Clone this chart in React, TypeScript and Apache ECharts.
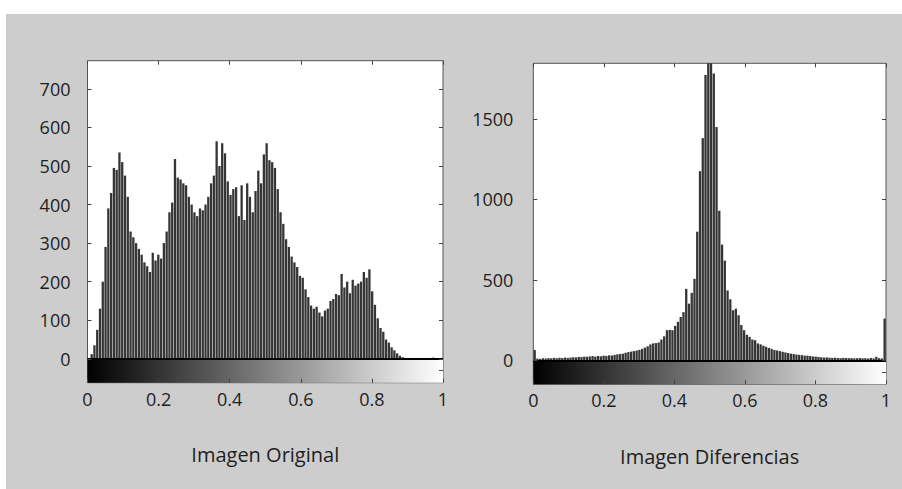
import React, { useEffect, useRef } from "react";
import * as echarts from "echarts";

// 128-bin histograms (bin i covers [i/128, (i+1)/128])
const origValues = [
  2, 12, 35, 75, 130, 200, 290, 390, 430, 495, 490, 535, 510, 475, 420, 330,
  315, 300, 285, 270, 250, 240, 225, 275, 255, 270, 260, 300, 330, 380, 405, 518,
  470, 465, 455, 450, 420, 400, 380, 370, 390, 385, 400, 420, 455, 475, 564, 500,
  559, 533, 460, 425, 440, 445, 370, 450, 360, 455, 420, 380, 435, 488, 455, 530,
  559, 515, 510, 495, 440, 380, 350, 310, 290, 265, 250, 238, 215, 210, 180, 160,
  138, 130, 135, 120, 110, 125, 130, 150, 155, 168, 165, 220, 185, 200, 170, 205,
  190, 195, 200, 225, 210, 232, 175, 140, 105, 80, 70, 50, 42, 30, 22, 14,
  8, 4, 2, 0, 0, 0, 0, 0, 0, 0, 0, 0, 3, 0, 0, 0,
];

const diffValues = [
  65, 12, 10, 14, 12, 15, 13, 16, 14, 17, 15, 18, 16, 18, 20, 19,
  22, 21, 24, 23, 25, 27, 24, 28, 26, 30, 28, 32, 31, 35, 38, 40,
  42, 48, 52, 55, 58, 62, 66, 72, 80, 88, 100, 106, 108, 112, 130, 150,
  188, 190, 188, 215, 240, 270, 300, 445, 353, 420, 507, 800, 1176, 1381, 1773, 2300,
  2300, 1783, 1450, 930, 720, 620, 435, 380, 312, 322, 281, 220, 188, 160, 147, 130,
  126, 106, 100, 92, 85, 78, 72, 65, 62, 58, 54, 50, 46, 42, 40, 37,
  35, 33, 30, 30, 28, 25, 24, 22, 20, 18, 19, 17, 16, 17, 15, 14,
  16, 15, 14, 15, 13, 14, 15, 13, 14, 12, 15, 13, 23, 14, 12, 260,
];

const xTickValues = [0, 0.2, 0.4, 0.6, 0.8, 1];
const origYTicks = [0, 100, 200, 300, 400, 500, 600, 700];
const diffYTicks = [0, 500, 1000, 1500];
const origRange = [-62, 773];
const diffRange = [-148, 1846];
const titles = ["Imagen Original", "Imagen Diferencias"];

const toPairs = (values: number[]) =>
  values.map((v, i) => [(i + 0.5) / values.length, v]);

const FONT = "'Open Sans', sans-serif";
const AXIS = "#444";
const TEXT = "#1e1e1e";

export default function App() {
  const ref = useRef<HTMLDivElement>(null);

  useEffect(() => {
    if (!ref.current) return;
    const chart = echarts.init(ref.current, undefined, { renderer: "svg" });

    const grids = [
      { left: 81.5, top: 46.7, width: 355.5, height: 322 },
      { left: 527.3, top: 49.3, width: 352.7, height: 321 },
    ];
    const ranges = [origRange, diffRange];
    const yTicks = [origYTicks, diffYTicks];
    const datasets = [origValues, diffValues];
    const labelMargins = [17, 20];

    const xAxes: any[] = [];
    const yAxes: any[] = [];
    const series: any[] = [];

    grids.forEach((_, g) => {
      const [mn, mx] = ranges[g];
      xAxes.push({
        type: "value",
        gridIndex: g,
        min: 0,
        max: 1,
        position: "bottom",
        z: 5,
        axisLine: { show: false, onZero: false },
        splitLine: { show: false },
        axisTick: {
          inside: true,
          length: 4,
          customValues: xTickValues,
          lineStyle: { color: AXIS },
        },
        axisLabel: {
          customValues: xTickValues,
          formatter: (v: number) => String(v),
          color: TEXT,
          fontSize: 18,
          fontFamily: FONT,
          margin: 7,
        },
        name: titles[g],
        nameLocation: "middle",
        nameGap: 62,
        nameTextStyle: { color: TEXT, fontSize: 20, fontFamily: FONT },
      });
      xAxes.push({
        type: "value",
        gridIndex: g,
        min: 0,
        max: 1,
        position: "top",
        z: 5,
        axisLine: { show: false, onZero: false },
        splitLine: { show: false },
        axisTick: {
          inside: true,
          length: 4,
          customValues: xTickValues,
          lineStyle: { color: AXIS },
        },
        axisLabel: { show: false },
      });
      yAxes.push({
        type: "value",
        gridIndex: g,
        min: mn,
        max: mx,
        position: "left",
        z: 5,
        axisLine: { show: false, onZero: false },
        splitLine: { show: false },
        axisTick: {
          inside: true,
          length: 4,
          customValues: yTicks[g],
          lineStyle: { color: AXIS },
        },
        axisLabel: {
          customValues: yTicks[g],
          formatter: (v: number) => String(v),
          color: TEXT,
          fontSize: 18,
          fontFamily: FONT,
          margin: labelMargins[g],
        },
      });
      yAxes.push({
        type: "value",
        gridIndex: g,
        min: mn,
        max: mx,
        position: "right",
        z: 5,
        axisLine: { show: false, onZero: false },
        splitLine: { show: false },
        axisTick: {
          inside: true,
          length: 4,
          customValues: [mn / 2, ...yTicks[g]],
          lineStyle: { color: AXIS },
        },
        axisLabel: { show: false },
      });
      series.push({
        type: "bar",
        xAxisIndex: g * 2,
        yAxisIndex: g * 2,
        data: toPairs(datasets[g]),
        barWidth: 2.3,
        clip: true,
        itemStyle: { color: "#353535" },
        markArea: {
          silent: true,
          itemStyle: {
            color: new echarts.graphic.LinearGradient(0, 0, 1, 0, [
              { offset: 0, color: "#000000" },
              { offset: 1, color: "#ffffff" },
            ]),
          },
          data: [[{ xAxis: 0, yAxis: mn }, { xAxis: 1, yAxis: 0 }]],
        },
        markLine: {
          silent: true,
          symbol: "none",
          label: { show: false },
          lineStyle: { color: "#000", width: 2, type: "solid" },
          data: [{ yAxis: 0 }],
        },
      });
    });

    chart.setOption({
      animation: false,
      backgroundColor: "#cdcdcd",
      grid: grids.map((gr) => ({
        ...gr,
        show: true,
        backgroundColor: "#ffffff",
        borderColor: "#555",
        borderWidth: 1,
      })),
      xAxis: xAxes,
      yAxis: yAxes,
      series,
    });

    return () => chart.dispose();
  }, []);

  return (
    <div
      style={{
        position: "absolute",
        left: 0,
        top: 0,
        width: 902,
        height: 489,
        background: "#ffffff",
      }}
    >
      <div
        ref={ref}
        style={{
          position: "absolute",
          left: 6,
          top: 14,
          width: 896,
          height: 475,
        }}
      />
    </div>
  );
}
